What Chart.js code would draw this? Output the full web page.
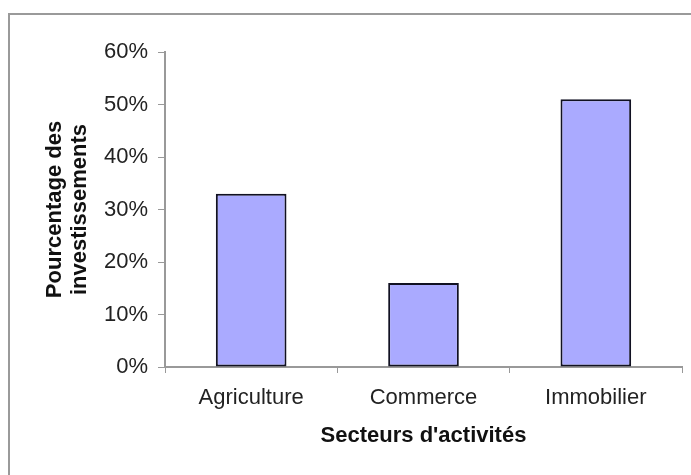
<!DOCTYPE html>
<html>
<head>
<meta charset="utf-8">
<script src="https://cdn.jsdelivr.net/npm/chart.js@4/dist/chart.umd.min.js"></script>
<style>
  html, body { margin: 0; padding: 0; background: #fff; }
  #wrap { position: relative; width: 691px; height: 475px; overflow: hidden; }
  #frame { position: absolute; left: 8px; top: 13px; width: 700px; height: 480px;
           border-left: 2px solid #9a9a9a; border-top: 2px solid #9a9a9a; }
  canvas { position: absolute; left: 0; top: 0; }
</style>
</head>
<body>
<div id="wrap">
  <div id="frame"></div>
  <canvas id="chart" width="691" height="475"></canvas>
</div>
<script>
const sectors = ['Agriculture', 'Commerce', 'Immobilier'];
const shares = [33, 16, 51]; // % of investments
const yTicks = [0, 10, 20, 30, 40, 50, 60];

const ctx = document.getElementById('chart').getContext('2d');
new Chart(ctx, {
  type: 'bar',
  data: {
    labels: sectors,
    datasets: [{
      data: shares,
      backgroundColor: '#aaaaff',
      borderColor: '#111122',
      borderWidth: 2,
      borderSkipped: false,
      categoryPercentage: 1,
      barPercentage: 0.41
    }]
  },
  options: {
    responsive: false,
    animation: false,
    layout: { padding: { left: 42, top: 52, right: 9, bottom: 26 } },
    plugins: { legend: { display: false }, tooltip: { enabled: false } },
    scales: {
      x: {
        grid: { display: true, drawOnChartArea: false, tickLength: 6, color: '#999', offset: true },
        border: { color: '#999', width: 2 },
        ticks: { color: '#222', font: { family: 'Liberation Sans', size: 22 }, padding: 12 },
        title: { display: true, text: "Secteurs d'activités", color: '#111',
                 font: { family: 'Liberation Sans', size: 22, weight: 'bold' }, padding: 0 },
        afterFit: (s) => { s.height = 82; }
      },
      y: {
        min: 0, max: 60,
        afterBuildTicks: (s) => { s.ticks = yTicks.map(v => ({ value: v })); },
        grid: { display: true, drawOnChartArea: false, tickLength: 7, color: '#999' },
        border: { color: '#999', width: 2 },
        ticks: { color: '#222', font: { family: 'Liberation Sans', size: 22 }, padding: 10,
                 callback: (v) => v + '%' },
        title: { display: true, text: ['Pourcentage des', 'investissements'], color: '#111',
                 font: { family: 'Liberation Sans', size: 22, weight: 'bold', lineHeight: 1.15 }, padding: 0 },
        afterFit: (s) => { s.width = 123; }
      }
    }
  }
});
</script>
</body>
</html>
